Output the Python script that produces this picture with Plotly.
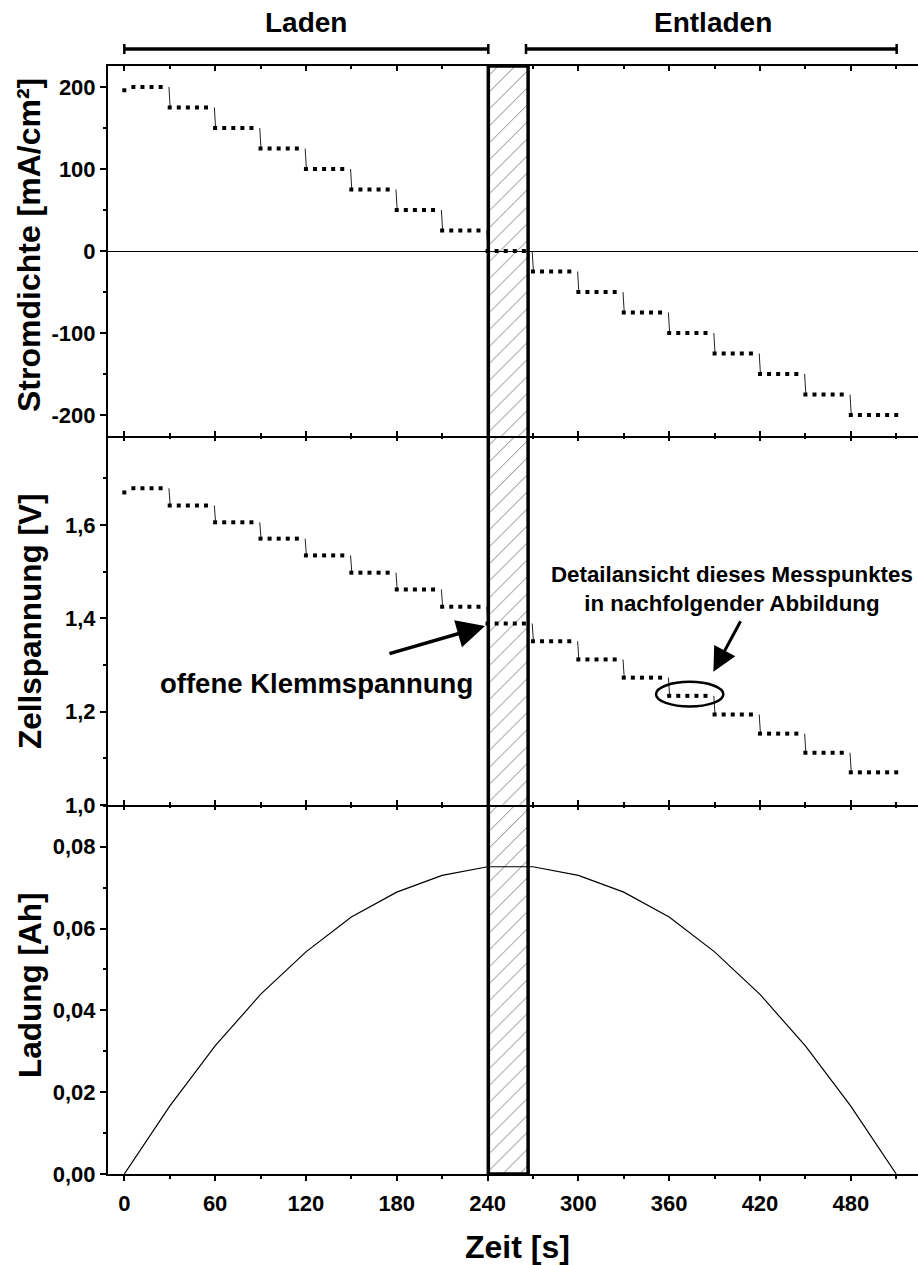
import plotly.graph_objects as go

# ---------------- data ----------------
step_start = [0, 30, 60, 90, 120, 150, 180, 210, 240, 270, 300, 330, 360, 390, 420, 450, 480]
current_level = [200, 175, 150, 125, 100, 75, 50, 25, 0, -25, -50, -75, -100, -125, -150, -175, -200]
voltage_level = [1.679, 1.642, 1.606, 1.571, 1.535, 1.498, 1.462, 1.425, 1.389,
                 1.351, 1.312, 1.273, 1.234, 1.194, 1.153, 1.112, 1.070]
sample_offsets = [0, 6, 12, 18, 24]
first_current = 196
first_voltage = 1.670
end_time = 510

charge_time = [0, 30, 60, 90, 120, 150, 180, 210, 240, 270, 300, 330, 360, 390, 420, 450, 480, 510]
charge = [0.0, 0.0166, 0.0313, 0.0439, 0.0543, 0.0628, 0.0689, 0.0730, 0.0751,
          0.0751, 0.0730, 0.0689, 0.0628, 0.0543, 0.0439, 0.0313, 0.0166, 0.0]

x_ticks = [0, 60, 120, 180, 240, 300, 360, 420, 480]
i_ticks = [-200, -100, 0, 100, 200]
i_ticktext = ["-200", "-100", "0", "100", "200"]

# ---------------- build plateau samples / transitions ----------------
t_pts, i_pts, u_pts = [], [], []
for k, t0 in enumerate(step_start):
    for off in sample_offsets:
        t_pts.append(t0 + off)
        i_pts.append(current_level[k])
        u_pts.append(voltage_level[k])
t_pts.append(end_time)
i_pts.append(current_level[-1])
u_pts.append(voltage_level[-1])
i_pts[0] = first_current
u_pts[0] = first_voltage

tr_t, tr_i, tr_u = [], [], []
for k in range(1, len(step_start)):
    tr_t += [step_start[k] - 0.5, step_start[k] + 0.3, None]
    tr_i += [current_level[k - 1], current_level[k], None]
    tr_u += [voltage_level[k - 1], voltage_level[k], None]

# ---------------- layout constants ----------------
W, H = 918, 1265
ML, MR, MT, MB = 108, 0, 66, 91
PH = H - MT - MB
def py(p):
    return (H - MB - p) / PH
def px(p):
    return (p - ML) / (W - ML - MR)

XR = [-10.77, 524.4]
Y1R = [-225.6, 225.6]
Y2R = [1.0, 1.791]
Y3R = [0.0, 0.0902]
BOX = [240.5, 266.8]

FONT = "Liberation Sans, Arial, sans-serif"
tickfont = dict(family=FONT, size=22, color="black", weight="bold")

fig = go.Figure()

# hatched box fill (per panel)
for xa, ya, yr in [("x", "y", Y1R), ("x2", "y2", Y2R), ("x3", "y3", Y3R)]:
    fig.add_trace(go.Scatter(
        x=[BOX[0], BOX[1], BOX[1], BOX[0], BOX[0]],
        y=[yr[0], yr[0], yr[1], yr[1], yr[0]],
        xaxis=xa, yaxis=ya, mode="lines", line=dict(width=0),
        fill="toself", fillcolor="rgba(0,0,0,0)",
        fillpattern=dict(shape="/", size=12, solidity=0.08, fgcolor="black",
                         bgcolor="rgba(255,255,255,0)"),
        hoverinfo="skip", showlegend=False))

# current density
fig.add_trace(go.Scatter(x=tr_t, y=tr_i, xaxis="x", yaxis="y", mode="lines",
                         line=dict(color="#222", width=1), showlegend=False))
fig.add_trace(go.Scatter(x=t_pts, y=i_pts, xaxis="x", yaxis="y", mode="markers",
                         marker=dict(symbol="square", size=4, color="black"),
                         showlegend=False))
# cell voltage
fig.add_trace(go.Scatter(x=tr_t, y=tr_u, xaxis="x2", yaxis="y2", mode="lines",
                         line=dict(color="#222", width=1), showlegend=False))
fig.add_trace(go.Scatter(x=t_pts, y=u_pts, xaxis="x2", yaxis="y2", mode="markers",
                         marker=dict(symbol="square", size=4, color="black"),
                         showlegend=False))
# charge
fig.add_trace(go.Scatter(x=charge_time, y=charge, xaxis="x3", yaxis="y3", mode="lines",
                         line=dict(color="black", width=1.2), showlegend=False))
# dummies for top-side ticks of middle / bottom panel
fig.add_trace(go.Scatter(x=[None], y=[None], xaxis="x4", yaxis="y3", mode="lines",
                         showlegend=False))
fig.add_trace(go.Scatter(x=[None], y=[None], xaxis="x5", yaxis="y2", mode="lines",
                         showlegend=False))

minor_in = dict(ticks="inside", ticklen=3, tickwidth=2, tickcolor="black",
                tick0=0, dtick=30, showgrid=False)
tickbase = dict(range=XR, tickwidth=2, tickcolor="black", ticklen=5,
                tickmode="array", tickvals=x_ticks, showgrid=False, zeroline=False)

d1 = 369 / PH
d2 = 738 / PH

fig.update_layout(
    width=W, height=H, margin=dict(l=ML, r=MR, t=MT, b=MB),
    paper_bgcolor="white", plot_bgcolor="white", separators=",.",
    font=dict(family=FONT, color="black"),
    xaxis=dict(**tickbase, anchor="y", showline=True, linecolor="black", linewidth=2,
               mirror="ticks", ticks="inside", showticklabels=False, minor=minor_in),
    xaxis2=dict(**tickbase, anchor="y2", showline=True, linecolor="black", linewidth=2,
                mirror=False, ticks="inside", showticklabels=False, minor=minor_in),
    xaxis5=dict(**tickbase, overlaying="x2", anchor="y2", side="top", showline=False,
                ticks="inside", showticklabels=False, minor=minor_in),
    xaxis3=dict(**tickbase, anchor="y3", showline=True, linecolor="black", linewidth=2,
                ticks="outside", tickfont=tickfont, ticklabelstandoff=4,
                minor=dict(ticks="outside", ticklen=3, tickwidth=2, tickcolor="black",
                           tick0=0, dtick=30)),
    xaxis4=dict(**tickbase, overlaying="x3", anchor="y3", side="top", showline=False,
                ticks="inside", showticklabels=False, minor=minor_in),
    yaxis=dict(domain=[d2, 1], range=Y1R, showline=True, linecolor="black", linewidth=2,
               ticks="outside", ticklen=6, tickwidth=2, tickcolor="black",
               tickmode="array", tickvals=i_ticks, ticktext=i_ticktext,
               tickfont=tickfont, showgrid=False, zeroline=True, zerolinecolor="black",
               zerolinewidth=1, anchor="x",
               minor=dict(ticks="outside", ticklen=3, tickwidth=2, tickcolor="black",
                          tickmode="linear", tick0=0, dtick=50)),
    yaxis2=dict(domain=[d1, d2], range=Y2R, showline=True, linecolor="black", linewidth=2,
                ticks="outside", ticklen=6, tickwidth=2, tickcolor="black",
                tick0=1.0, dtick=0.2, tickformat=".1f", tickfont=tickfont,
                showgrid=False, zeroline=False, anchor="x2",
                minor=dict(ticks="outside", ticklen=3, tickwidth=2, tickcolor="black",
                           tick0=1.0, dtick=0.1)),
    yaxis3=dict(domain=[0, d1], range=Y3R, showline=True, linecolor="black", linewidth=2,
                ticks="outside", ticklen=6, tickwidth=2, tickcolor="black",
                tick0=0, dtick=0.02, tickformat=".2f", tickfont=tickfont,
                showgrid=False, zeroline=False, anchor="x3",
                minor=dict(ticks="outside", ticklen=3, tickwidth=2, tickcolor="black",
                           tick0=0, dtick=0.01)),
)

shapes = []
# box outline
shapes.append(dict(type="rect", xref="x", yref="paper", x0=BOX[0], x1=BOX[1], y0=0, y1=1,
                   line=dict(color="black", width=3.5), layer="above"))
# brackets
for xa, xb in [(0, 240.5), (265.4, 510.3)]:
    shapes.append(dict(type="line", xref="x", yref="paper", x0=xa, x1=xb,
                       y0=py(49), y1=py(49), line=dict(color="black", width=3.5)))
    for xe in (xa, xb):
        shapes.append(dict(type="line", xref="x", yref="paper", x0=xe, x1=xe,
                           y0=py(44), y1=py(54), line=dict(color="black", width=2.5)))
# ellipse
shapes.append(dict(type="circle", xref="x2", yref="y2", x0=351.3, x1=395.8,
                   y0=1.211, y1=1.264, line=dict(color="black", width=2.5)))
fig.update_layout(shapes=shapes)

ann = []
def txt(text, x, y, xref, yref, size, angle=0, xanchor="center", yanchor="middle"):
    ann.append(dict(text=text, x=x, y=y, xref=xref, yref=yref, showarrow=False,
                    textangle=angle, xanchor=xanchor, yanchor=yanchor,
                    font=dict(family=FONT, size=size, color="black", weight="bold")))

txt("Laden", 120, py(23), "x", "paper", 28)
txt("Entladen", 389, py(23), "x", "paper", 28)
txt("Stromdichte [mA/cm²]", px(29), py(245), "paper", "paper", 32, angle=-90)
txt("Zellspannung [V]", px(30), py(621), "paper", "paper", 31.5, angle=-90)
txt("Ladung [Ah]", px(30), py(986), "paper", "paper", 31.5, angle=-90)
txt("Zeit [s]", 259.5, py(1247), "x", "paper", 32)
txt("offene Klemmspannung", 231.7, 1.2594, "x2", "y2", 27.5, xanchor="right")
txt("Detailansicht dieses Messpunktes<br>in nachfolgender Abbildung", 401.5, 1.463,
    "x2", "y2", 22.3)

# arrows
ann.append(dict(x=238.3, y=1.3837, xref="x2", yref="y2", ax=-97, ay=28, text="",
                showarrow=True, arrowhead=2, arrowsize=1.6, arrowwidth=3.5,
                arrowcolor="black"))
ann.append(dict(x=389.2, y=1.2857, xref="x2", yref="y2", ax=28, ay=-52, text="",
                showarrow=True, arrowhead=2, arrowsize=1.6, arrowwidth=3,
                arrowcolor="black"))
fig.update_layout(annotations=ann)

fig.write_html("out.html")
